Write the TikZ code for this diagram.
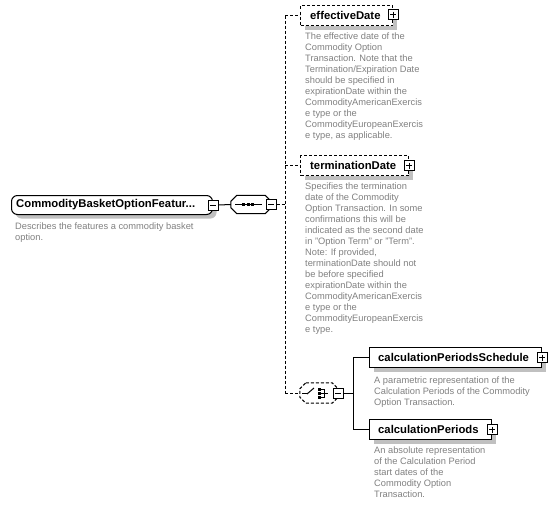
\documentclass[tikz,border=0pt]{standalone}
\usepackage{fontspec}
\setmainfont{Liberation Sans}
\usetikzlibrary{shadows}
\definecolor{descgray}{RGB}{128,128,128}
\definecolor{shadowgray}{RGB}{192,192,192}
\newcommand{\octpath}[1]{([xshift=6pt]#1.north west) -- ([xshift=-6pt]#1.north east) -- ([yshift=-6pt]#1.north east) -- ([yshift=6pt]#1.south east) -- ([xshift=-6pt]#1.south east) -- ([xshift=6pt]#1.south west) -- ([yshift=6pt]#1.south west) -- ([yshift=-6pt]#1.north west) -- cycle}
\tikzset{
  conn/.style={line width=1pt, draw=black},
  dconn/.style={conn, dash pattern=on 3pt off 2pt},
  shad/.style={drop shadow={shadow xshift=4pt, shadow yshift=-4pt, fill=shadowgray, opacity=1}},
  box/.style={draw=black, fill=white, line width=1pt, minimum height=20pt, anchor=north west, inner sep=0, shad},
  dbox/.style={box, dash pattern=on 3pt off 2pt},
  octnode/.style={rectangle, draw=none, inner sep=0, minimum height=18pt},
  octline/.style={draw=black, fill=white, line width=1pt},
  octshadow/.style={fill=shadowgray, draw=none, shift={(4pt,-4pt)}},
  pm/.style={draw=black, fill=white, minimum size=10pt, inner sep=0, line width=1pt},
  minusbox/.style={pm, path picture={\draw[line width=1pt] ([xshift=2pt]path picture bounding box.west) -- ([xshift=-2pt]path picture bounding box.east);}},
  plusbox/.style={pm, path picture={\draw[line width=1pt] ([xshift=2pt]path picture bounding box.west) -- ([xshift=-2pt]path picture bounding box.east) ([yshift=-2pt]path picture bounding box.north) -- ([yshift=2pt]path picture bounding box.south);}},
  lbl/.style={font=\fontsize{11.3}{13}\selectfont\bfseries, anchor=west, inner sep=0},
  desc/.style={anchor=north west, inner sep=0, align=left, text=descgray, font=\fontsize{9.3}{11}\selectfont},
  sq/.style={fill=black, draw=none},
}
\begin{document}
\begin{tikzpicture}[x=1pt,y=-1pt]
\useasboundingbox (0,0) rectangle (556,506);

% root element
\node[box, rounded corners=6pt, minimum width=201pt, minimum height=19pt] (root) at (11,195) {};
\node[lbl] (rootl) at ([xshift=5pt]root.west) {CommodityBasketOptionFeatur...};
\node[minusbox] (rootm) at (root.east) {};
\node[desc] (rootd) at (15,222.5) {Describes the features a commodity basket\\option.};

% sequence compositor
\node[octnode, minimum width=40pt] (seq) at (251,204.5) {};
\path[octshadow] \octpath{seq};
\path[octline] \octpath{seq};
\node[minusbox] (seqm) at (seq.east) {};
\begin{scope}[shift={(seq.center)}]
  \draw[line width=1pt] (-16,0) -- (11,0);
  \fill[sq] (-9,-1.5) rectangle (-6,1.5);
  \fill[sq] (-4.5,-1.5) rectangle (-1.5,1.5);
  \fill[sq] (0,-1.5) rectangle (3,1.5);
\end{scope}
\draw[conn] (rootm.east) -- (seq.west);

% spine
\coordinate (sp) at (285,204.5);
\draw[dconn] (seqm.east) -- (sp);

% effectiveDate
\node[dbox, minimum width=92pt] (ed) at (300,5) {};
\node[lbl] (edl) at ([xshift=10pt]ed.west) {effectiveDate};
\node[plusbox] (edp) at ([yshift=1pt]ed.east) {};
\node[desc] (edd) at (305,33) {The effective date of the\\Commodity Option\\Transaction. Note that the\\Termination/Expiration Date\\should be specified in\\expirationDate within the\\CommodityAmericanExercis\\e type or the\\CommodityEuropeanExercis\\e type, as applicable.};

% terminationDate
\node[dbox, minimum width=108pt] (td) at (300,155) {};
\node[lbl] (tdl) at ([xshift=10pt]td.west) {terminationDate};
\node[plusbox] (tdp) at (td.east) {};
\node[desc] (tdd) at (305,182.5) {Specifies the termination\\date of the Commodity\\Option Transaction. In some\\confirmations this will be\\indicated as the second date\\in "Option Term" or "Term".\\Note: If provided,\\terminationDate should not\\be before specified\\expirationDate within the\\CommodityAmericanExercis\\e type or the\\CommodityEuropeanExercis\\e type.};

% choice compositor
\node[octnode, minimum width=38pt, minimum height=20pt] (ch) at (319,393) {};
\path[octshadow] \octpath{ch};
\path[octline, dash pattern=on 3pt off 2pt] \octpath{ch};
\node[minusbox] (chm) at (ch.east) {};
\begin{scope}[shift={(ch.center)}]
  \draw[line width=1pt] (-17,0) -- (-12,0);
  \draw[line width=1pt] (-12,1) -- (-5,-5);
  \fill[sq] (-1,-5.5) rectangle (2,-2.5);
  \fill[sq] (-1,-1.5) rectangle (2,1.5);
  \fill[sq] (-1,2.5) rectangle (2,5.5);
  \draw[line width=1pt] (2,-4) -- (5,-4) -- (5,4) -- (2,4) (2,0) -- (9,0);
\end{scope}

\draw[dconn] (sp |- ed.west) -- (sp |- ch.west);
\draw[dconn] (sp |- ed.west) -- (ed.west);
\draw[dconn] (sp |- td.west) -- (td.west);
\draw[dconn] (sp |- ch.west) -- (ch.west);

% calculationPeriodsSchedule
\node[box, minimum width=172pt] (cps) at (369,347) {};
\node[lbl] (cpsl) at ([xshift=9pt]cps.west) {calculationPeriodsSchedule};
\node[plusbox] (cpsp) at (cps.east) {};
\node[desc] (cpsd) at (374,376.5) {A parametric representation of the\\Calculation Periods of the Commodity\\Option Transaction.};

% calculationPeriods
\node[box, minimum width=122pt] (cp) at (369,419) {};
\node[lbl] (cpl) at ([xshift=9pt]cp.west) {calculationPeriods};
\node[plusbox] (cpp) at (cp.east) {};
\node[desc] (cpd) at (374,446.5) {An absolute representation\\of the Calculation Period\\start dates of the\\Commodity Option\\Transaction.};

% choice connectors
\coordinate (cj) at (353,393);
\draw[conn] (chm.east) -- (cj);
\draw[conn] (cj |- cps.west) -- (cj |- cp.west);
\draw[conn] (cj |- cps.west) -- (cps.west);
\draw[conn] (cj |- cp.west) -- (cp.west);
\end{tikzpicture}
\end{document}
